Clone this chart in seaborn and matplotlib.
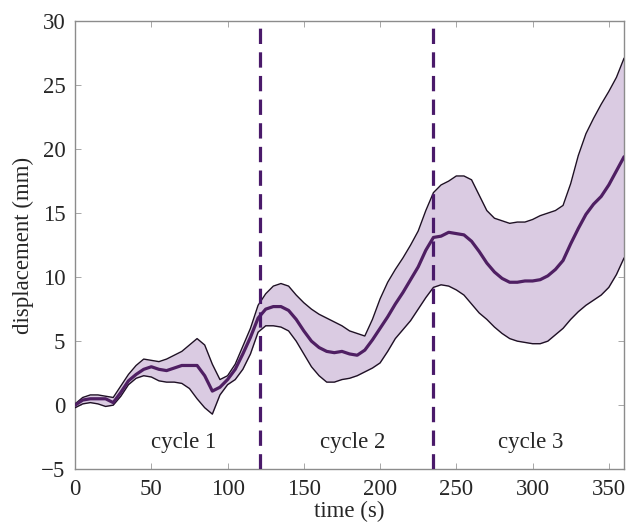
import numpy as np
import pandas as pd
import matplotlib
matplotlib.use("Agg")
import matplotlib.pyplot as plt
import seaborn as sns

time_s = list(range(0, 361, 5))
mean_disp = [0.0, 0.4, 0.5, 0.5, 0.5, 0.2, 1.0, 1.9, 2.4, 2.8, 3.0, 2.8, 2.7, 2.9, 3.1, 3.1, 3.1, 2.3, 1.1, 1.4,
             2.0, 2.8, 4.0, 5.3, 6.8, 7.5, 7.7, 7.7, 7.4, 6.7, 5.8, 5.0, 4.5, 4.2, 4.1, 4.2, 4.0, 3.9, 4.3, 5.1,
             6.0, 6.9, 7.9, 8.8, 9.8, 10.8, 12.1, 13.1, 13.2, 13.5, 13.4, 13.3, 12.8, 12.0, 11.1, 10.4, 9.9, 9.6,
             9.6, 9.7, 9.7, 9.8, 10.1, 10.6, 11.3, 12.6, 13.8, 14.9, 15.7, 16.3, 17.2, 18.3, 19.4]
upper_disp = [0.1, 0.6, 0.8, 0.8, 0.7, 0.6, 1.5, 2.4, 3.1, 3.6, 3.5, 3.4, 3.6, 3.9, 4.2, 4.7, 5.2, 4.7, 3.2, 2.0,
              2.3, 3.2, 4.6, 6.0, 7.8, 8.7, 9.3, 9.5, 9.3, 8.6, 8.0, 7.5, 7.1, 6.8, 6.5, 6.2, 5.8, 5.6, 5.4, 6.7,
              8.3, 9.6, 10.6, 11.5, 12.5, 13.6, 15.2, 16.6, 17.2, 17.5, 17.9, 17.9, 17.6, 16.4, 15.2, 14.6, 14.4,
              14.2, 14.3, 14.3, 14.5, 14.8, 15.0, 15.2, 15.6, 17.3, 19.5, 21.2, 22.4, 23.5, 24.5, 25.6, 27.1]
lower_disp = [-0.2, 0.1, 0.2, 0.1, -0.1, 0.0, 0.7, 1.6, 2.1, 2.3, 2.2, 1.9, 1.8, 1.8, 1.7, 1.3, 0.5, -0.2, -0.7, 0.8,
              1.6, 2.0, 2.8, 4.0, 5.7, 6.2, 6.2, 6.1, 5.8, 5.0, 4.0, 3.0, 2.3, 1.8, 1.8, 2.0, 2.1, 2.3, 2.6, 2.9,
              3.3, 4.2, 5.2, 5.9, 6.6, 7.5, 8.4, 9.2, 9.4, 9.3, 9.0, 8.6, 7.9, 7.2, 6.7, 6.1, 5.6, 5.2, 5.0, 4.9,
              4.8, 4.8, 5.0, 5.5, 6.0, 6.7, 7.3, 7.8, 8.2, 8.6, 9.2, 10.2, 11.5]
cycle_bounds = [121, 235]
cycle_labels = ["cycle 1", "cycle 2", "cycle 3"]
cycle_label_x = [71, 182, 299]
x_ticks = [0, 50, 100, 150, 200, 250, 300, 350]
y_ticks = [-5, 0, 5, 10, 15, 20, 25, 30]

df = pd.DataFrame({"t": time_s, "mean": mean_disp, "upper": upper_disp, "lower": lower_disp})

sns.set_theme(style="white")
plt.rcParams["font.family"] = ["Liberation Serif", "DejaVu Serif"]

fig = plt.figure(figsize=(6.31, 5.26), dpi=100)
ax = fig.add_axes([0.119, 0.108, 0.870, 0.852])

purple = "#4f1f63"
ax.fill_between(df["t"], df["lower"], df["upper"], color="#dacbe2", lw=0, zorder=1)
sns.lineplot(data=df, x="t", y="upper", ax=ax, color="#1e1024", lw=1.0, zorder=3)
sns.lineplot(data=df, x="t", y="lower", ax=ax, color="#1e1024", lw=1.0, zorder=3)
sns.lineplot(data=df, x="t", y="mean", ax=ax, color=purple, lw=2.3, zorder=4)

for xb in cycle_bounds:
    ax.axvline(xb, color="#4a1a6a", lw=2.3, ls=(0, (4.8, 2.6)), zorder=5)

for lab, xl in zip(cycle_labels, cycle_label_x):
    ax.text(xl, -2.9, lab, ha="center", va="center", fontsize=16.5)

ax.set_xlim(0, 360)
ax.set_ylim(-5, 30)
ax.set_xticks(x_ticks)
ax.set_yticks(y_ticks)
ax.set_yticklabels(["\u22125"] + [str(v) for v in y_ticks[1:]])
ax.tick_params(direction="in", length=4, width=0.6, color="#999999", labelsize=16.5,
               top=True, right=True, bottom=True, left=True, pad=7)
ax.set_xlabel("time (s)", fontsize=16.5, labelpad=1)
ax.set_ylabel("displacement (mm)", fontsize=16.5, labelpad=5)
for sp in ax.spines.values():
    sp.set_color("#8c8c8c")
    sp.set_linewidth(1.0)

fig.savefig("out.png", dpi=100)
